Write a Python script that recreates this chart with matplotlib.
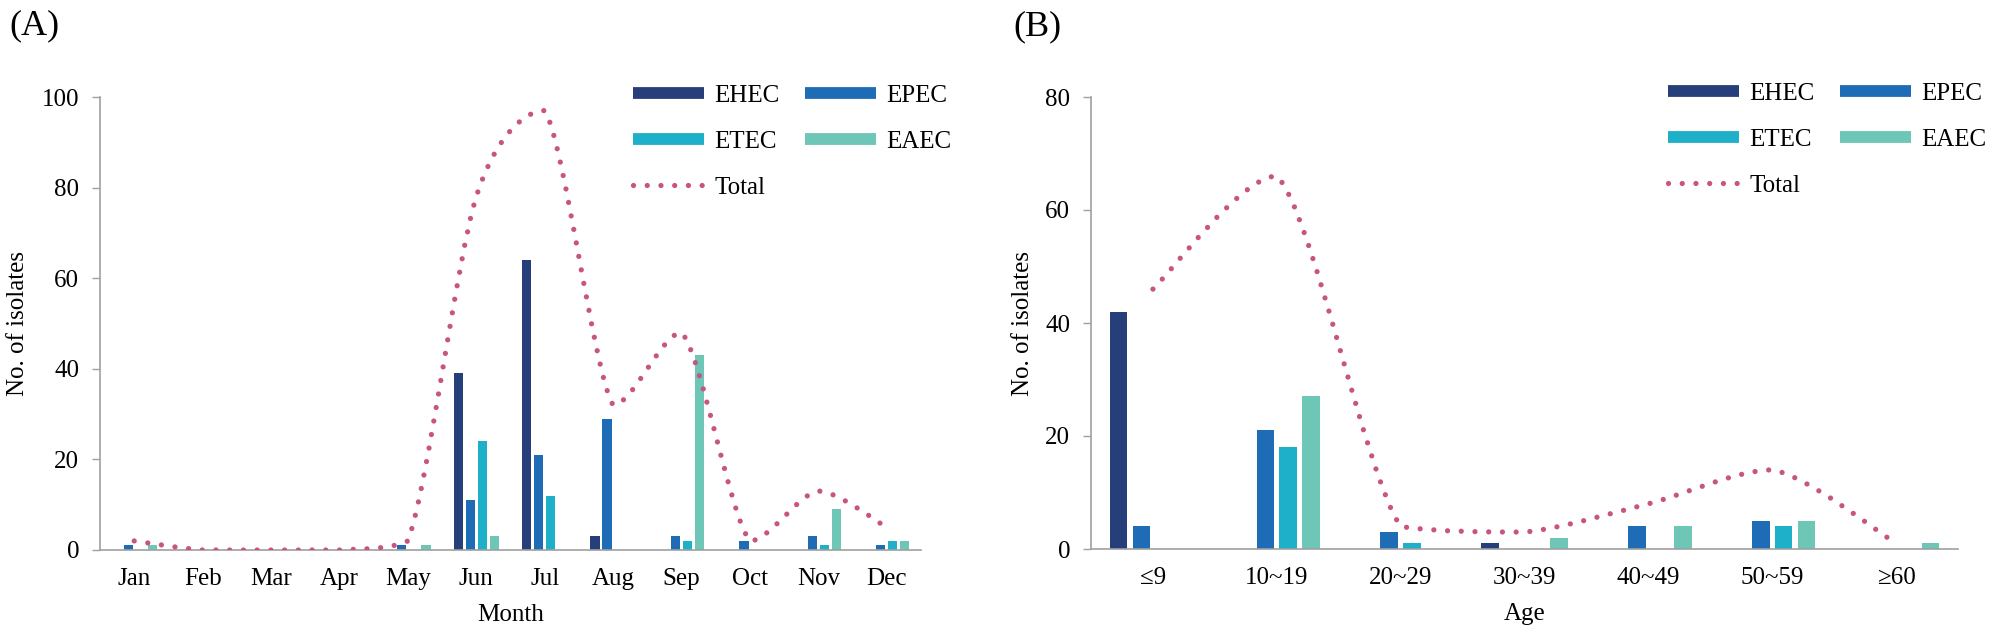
import numpy as np
import matplotlib
matplotlib.use("Agg")
import matplotlib.pyplot as plt
from matplotlib.path import Path
from matplotlib.patches import PathPatch
from matplotlib.lines import Line2D

plt.rcParams['font.family'] = ['Liberation Serif', 'DejaVu Serif']

# datos panel A (por mes)
meses = ["Jan", "Feb", "Mar", "Apr", "May", "Jun", "Jul", "Aug", "Sep", "Oct", "Nov", "Dec"]
ehec_mes = [0, 0, 0, 0, 0, 39, 64, 3, 0, 0, 0, 0]
epec_mes = [1, 0, 0, 0, 1, 11, 21, 29, 3, 2, 3, 1]
etec_mes = [0, 0, 0, 0, 0, 24, 12, 0, 2, 0, 1, 2]
eaec_mes = [1, 0, 0, 0, 1, 3, 0, 0, 43, 0, 9, 2]
total_mes = [2, 0, 0, 0, 2, 78, 97, 32, 48, 2, 13, 5]

# datos panel B (por edad)
edades = ["≤9", "10~19", "20~29", "30~39", "40~49", "50~59", "≥60"]
ehec_edad = [42, 0, 0, 1, 0, 0, 0]
epec_edad = [4, 21, 3, 0, 4, 5, 0]
etec_edad = [0, 18, 1, 0, 0, 4, 0]
eaec_edad = [0, 27, 0, 2, 4, 5, 1]
total_edad = [46, 66, 4, 3, 8, 14, 1]

COLORES = ["#263F7A", "#1F6CB6", "#1EB0C8", "#6DC6B6"]
ROSA = "#C8557F"
GRIS = "#A0A0A0"
DOTS = (0, (0.001, 2.6))
TENSION = 1 / 7


def curva_suave(x, y):
    # bezier tipo "smoothed line" de Excel, sin pasarse de los puntos
    n = len(x)
    verts = [(x[0], y[0])]
    codes = [Path.MOVETO]
    for i in range(n - 1):
        x0, y0 = (x[i - 1], y[i - 1]) if i > 0 else (x[i], y[i])
        x3, y3 = (x[i + 2], y[i + 2]) if i + 2 < n else (x[i + 1], y[i + 1])
        lo, hi = min(y[i], y[i + 1]), max(y[i], y[i + 1])
        c1y = np.clip(y[i] + (y[i + 1] - y0) * TENSION, lo, hi)
        c2y = np.clip(y[i + 1] - (y3 - y[i]) * TENSION, lo, hi)
        c1 = (x[i] + (x[i + 1] - x0) * TENSION, c1y)
        c2 = (x[i + 1] - (x3 - x[i]) * TENSION, c2y)
        verts += [c1, c2, (x[i + 1], y[i + 1])]
        codes += [Path.CURVE4] * 3
    return Path(verts, codes)


def dibujar(ax, cats, series, total, ymax, slot, xlabel):
    x = np.arange(len(cats))
    for k, vals in enumerate(series):
        off = (k - 1.5) * slot
        ax.bar(x + off, vals, width=slot * 0.77, color=COLORES[k], zorder=2)
    p = PathPatch(curva_suave(list(x), total), fill=False, edgecolor=ROSA,
                  lw=3.8, linestyle=DOTS, capstyle='round', zorder=3)
    ax.add_patch(p)
    ax.set_xlim(-0.5, len(cats) - 0.5)
    ax.set_ylim(0, ymax)
    ax.set_yticks(np.arange(0, ymax + 1, 20))
    ax.set_xticks(x)
    ax.set_xticklabels(cats)
    for s in ["top", "right"]:
        ax.spines[s].set_visible(False)
    for s in ["left", "bottom"]:
        ax.spines[s].set_color(GRIS)
        ax.spines[s].set_linewidth(1.2)
    ax.tick_params(axis='x', length=0, pad=13, labelsize=18)
    ax.tick_params(axis='y', length=6, width=1.0, color=GRIS, pad=9, labelsize=18)
    ax.set_xlabel(xlabel, fontsize=18, labelpad=10)
    ax.set_ylabel("No. of isolates", fontsize=18)


def leyenda(fig, x, y):
    h = [Line2D([], [], color=c, lw=8.5, solid_capstyle='butt') for c in COLORES]
    tot = Line2D([], [], color=ROSA, lw=3.8, linestyle=DOTS, dash_capstyle='round')
    handles = [h[0], h[2], tot, h[1], h[3]]
    labels = ["EHEC", "ETEC", "Total", "EPEC", "EAEC"]
    fig.legend(handles, labels, ncol=2, loc='upper left',
               bbox_to_anchor=(x / 1992, 1 - y / 638), frameon=False,
               fontsize=18, handlelength=2.85, handletextpad=0.4,
               columnspacing=1.0, labelspacing=0.95, borderpad=0, borderaxespad=0)


fig = plt.figure(figsize=(19.92, 6.38), dpi=100)
axA = fig.add_axes([100 / 1992, 1 - 550 / 638, 821 / 1992, 453 / 638])
axB = fig.add_axes([1091 / 1992, 1 - 549 / 638, 867 / 1992, 452 / 638])

dibujar(axA, meses, [ehec_mes, epec_mes, etec_mes, eaec_mes], total_mes, 100, 0.176, "Month")
dibujar(axB, edades, [ehec_edad, epec_edad, etec_edad, eaec_edad], total_edad, 80, 0.185, "Age")
axA.yaxis.set_label_coords(-0.086, 0.5)
axB.yaxis.set_label_coords(-0.066, 0.5)

leyenda(fig, 633, 84)
leyenda(fig, 1668, 82)

fig.text(9 / 1992, 1 - 26 / 638, "(A)", fontsize=26, va='center', ha='left')
fig.text(1013 / 1992, 1 - 27 / 638, "(B)", fontsize=26, va='center', ha='left')

fig.savefig("out.png", dpi=100)
